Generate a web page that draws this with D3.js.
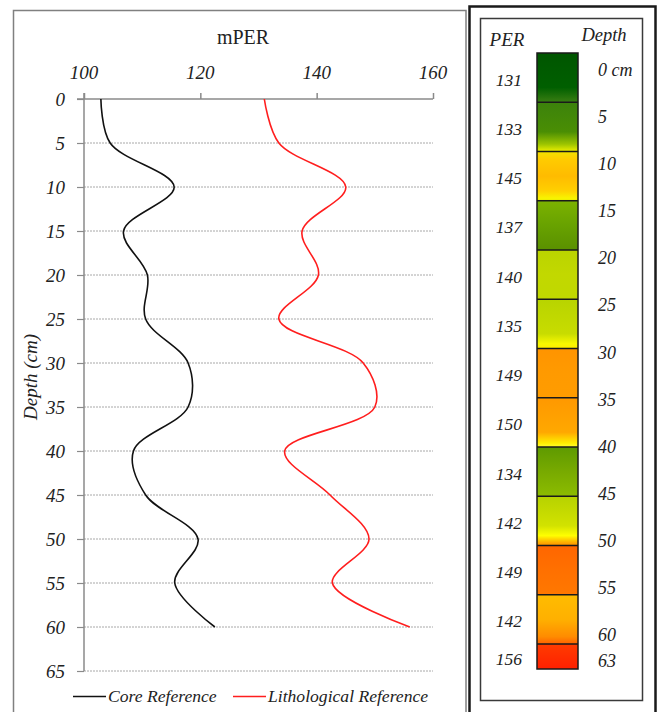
<!DOCTYPE html>
<html>
<head>
<meta charset="utf-8">
<script src="https://cdn.jsdelivr.net/npm/d3@7"></script>
<style>
  html, body { margin: 0; padding: 0; background: #fff; }
  svg { display: block; }
  text { font-family: "Liberation Serif", "Times New Roman", serif; fill: #222; }
</style>
</head>
<body>
<svg id="chart" width="659" height="712"></svg>
<script>
// Sampling depths (cm) of the profile
const depths = [0, 5, 10, 15, 20, 25, 30, 35, 40, 45, 50, 55, 60];
// mPER along the core reference
const coreReference = [102.9, 104.5, 115.5, 106.8, 110.9, 110.6, 117.9, 117.9, 108.5, 110.6, 119.6, 115.6, 122.5];
// mPER along the lithological reference
const lithologicalReference = [131, 133.5, 145, 137.5, 140.3, 133.5, 148, 150, 134.5, 142.3, 149, 142.7, 156];

const xTicks = [100, 120, 140, 160];
const yTicks = [0, 5, 10, 15, 20, 25, 30, 35, 40, 45, 50, 55, 60, 65];

// Layered column: band boundaries, PER per layer, depth labels
const bandEdges = [0, 5, 10, 15, 20, 25, 30, 35, 40, 45, 50, 55, 60, 63];
const bandPER = [131, 133, 145, 137, 140, 135, 149, 150, 134, 142, 149, 142, 156];
const depthLabels = ["0 cm", "5", "10", "15", "20", "25", "30", "35", "40", "45", "50", "55", "60", "63"];

// Colour ramps of each layer, top to bottom
const bandColors = [
  [[0, "#005600"], [0.7, "#005f00"], [1, "#3a7e12"]],
  [[0, "#3c820c"], [0.6, "#4a8e04"], [0.85, "#9cc400"], [1, "#eef000"]],
  [[0, "#f2e200"], [0.15, "#ffcc00"], [0.5, "#ffbb00"], [0.8, "#ffd000"], [0.95, "#f8f400"], [1, "#e8e800"]],
  [[0, "#7cb200"], [0.5, "#68a200"], [1, "#5a9000"]],
  [[0, "#bad400"], [0.5, "#c2d800"], [1, "#c0d800"]],
  [[0, "#b8d400"], [0.7, "#c8dc00"], [0.9, "#f8f800"], [1, "#ffee00"]],
  [[0, "#ff9400"], [0.5, "#ff9a00"], [1, "#ff9c00"]],
  [[0, "#ff9800"], [0.7, "#ffa800"], [0.92, "#ffee00"], [1, "#ffff30"]],
  [[0, "#5e9a00"], [0.5, "#78aa00"], [1, "#8cbc00"]],
  [[0, "#b6d200"], [0.6, "#d2e200"], [0.8, "#ffff00"], [0.93, "#ffb000"], [1, "#ff9000"]],
  [[0, "#ff6600"], [0.5, "#ff7000"], [1, "#ff7800"]],
  [[0, "#ffbc00"], [0.5, "#ffb000"], [0.85, "#ff8c00"], [1, "#ff6200"]],
  [[0, "#ff3c00"], [1, "#ff2000"]]
];

const svg = d3.select("#chart");
const axisGrey = "#8a8a8a";

// ---------- frames ----------
svg.append("rect").attr("x", 13.5).attr("y", 10.5).attr("width", 452.5).attr("height", 720)
  .attr("fill", "none").attr("stroke", "#808080").attr("stroke-width", 1.5);
svg.append("rect").attr("x", 469.5).attr("y", 6.5).attr("width", 186).attr("height", 720)
  .attr("fill", "none").attr("stroke", "#1a1a1a").attr("stroke-width", 2.5);
svg.append("rect").attr("x", 480.5).attr("y", 18.5).attr("width", 162).attr("height", 682)
  .attr("fill", "none").attr("stroke", "#3a3a3a").attr("stroke-width", 1.5);

// ---------- profile chart ----------
const x = d3.scaleLinear().domain([100, 160]).range([84, 433]);
const y = d3.scaleLinear().domain([0, 65]).range([99, 671]);

const grid = svg.append("g");
grid.selectAll("line").data(yTicks.filter(d => d > 0)).join("line")
  .attr("x1", x(100)).attr("x2", x(160))
  .attr("y1", d => y(d)).attr("y2", d => y(d))
  .attr("stroke", "#a8a8a8").attr("stroke-width", 1).attr("stroke-dasharray", "2,1");

// top axis
const xAxis = d3.axisTop(x).tickValues(xTicks).tickSize(6).tickFormat("");
const gx = svg.append("g").attr("transform", `translate(0,${y(0)})`).call(xAxis);
gx.select(".domain").attr("d", `M77,0H${x(160)}`).attr("stroke", axisGrey).attr("stroke-width", 1.5);
gx.selectAll(".tick line").attr("stroke", axisGrey).attr("stroke-width", 1.5);

svg.append("g").selectAll("text").data(xTicks).join("text")
  .attr("x", d => x(d)).attr("y", 79)
  .attr("text-anchor", "middle").attr("font-style", "italic").attr("font-size", 19)
  .text(d => d);

// left axis
const yAxis = d3.axisLeft(y).tickValues(yTicks).tickSize(7).tickFormat("");
const gy = svg.append("g").attr("transform", `translate(${x(100)},0)`).call(yAxis);
gy.select(".domain").attr("d", `M0,${y(0) - 6}V${y(65)}`).attr("stroke", axisGrey).attr("stroke-width", 1.5);
gy.selectAll(".tick line").attr("stroke", axisGrey).attr("stroke-width", 1.2);

svg.append("g").selectAll("text").data(yTicks).join("text")
  .attr("x", 65).attr("y", d => y(d) + 6.5)
  .attr("text-anchor", "end").attr("font-style", "italic").attr("font-size", 19)
  .text(d => d);

svg.append("text").attr("x", 243).attr("y", 44).attr("text-anchor", "middle")
  .attr("font-size", 20).text("mPER");

svg.append("text").attr("transform", "translate(37,377) rotate(-90)")
  .attr("text-anchor", "middle").attr("font-style", "italic").attr("font-size", 19)
  .text("Depth (cm)");

const line = d3.line()
  .x(d => x(d[1])).y(d => y(d[0]))
  .curve(d3.curveCatmullRom.alpha(0.5));

svg.append("path").datum(depths.map((d, i) => [d, coreReference[i]]))
  .attr("d", line).attr("fill", "none").attr("stroke", "#111").attr("stroke-width", 1.6);
svg.append("path").datum(depths.map((d, i) => [d, lithologicalReference[i]]))
  .attr("d", line).attr("fill", "none").attr("stroke", "#ff1e1e").attr("stroke-width", 1.6);

// legend
const legend = [
  { label: "Core Reference", color: "#111", x0: 73 },
  { label: "Lithological Reference", color: "#ff1e1e", x0: 233 }
];
const lg = svg.append("g").selectAll("g").data(legend).join("g");
lg.append("line").attr("x1", d => d.x0).attr("x2", d => d.x0 + 33)
  .attr("y1", 696.5).attr("y2", 696.5).attr("stroke", d => d.color).attr("stroke-width", 1.6);
lg.append("text").attr("x", d => d.x0 + 35).attr("y", 702)
  .attr("font-style", "italic").attr("font-size", 17.6).text(d => d.label);

// ---------- layered PER column ----------
const yb = d3.scaleLinear().domain([0, 60, 63]).range([53, 644, 669]);
const yLab = d3.scaleLinear().domain([0, 60, 63]).range([70, 635, 661]);
const barX = 537, barW = 41;

const defs = svg.append("defs");
bandColors.forEach((stops, i) => {
  const g = defs.append("linearGradient").attr("id", "band" + i)
    .attr("x1", 0).attr("y1", 0).attr("x2", 0).attr("y2", 1);
  stops.forEach(s => g.append("stop").attr("offset", s[0]).attr("stop-color", s[1]));
});

const bands = bandPER.map((p, i) => ({ i, per: p, top: bandEdges[i], bottom: bandEdges[i + 1] }));

svg.append("g").selectAll("rect").data(bands).join("rect")
  .attr("x", barX).attr("width", barW)
  .attr("y", d => yb(d.top)).attr("height", d => yb(d.bottom) - yb(d.top))
  .attr("fill", d => `url(#band${d.i})`);

svg.append("g").selectAll("line").data(bandEdges.slice(1, -1)).join("line")
  .attr("x1", barX).attr("x2", barX + barW)
  .attr("y1", d => yb(d)).attr("y2", d => yb(d))
  .attr("stroke", "#1a1a1a").attr("stroke-width", 1.5);

svg.append("rect").attr("x", barX).attr("y", yb(0)).attr("width", barW).attr("height", yb(63) - yb(0))
  .attr("fill", "none").attr("stroke", "#1a1a1a").attr("stroke-width", 1.5);

svg.append("g").selectAll("text").data(bands).join("text")
  .attr("x", 522).attr("y", d => (yb(d.top) + yb(d.bottom)) / 2 + 8)
  .attr("text-anchor", "end").attr("font-style", "italic").attr("font-size", 17.5)
  .text(d => d.per);

svg.append("g").selectAll("text").data(bandEdges).join("text")
  .attr("x", 598).attr("y", d => yLab(d) + 6)
  .attr("font-style", "italic").attr("font-size", 18)
  .text((d, i) => depthLabels[i]);

svg.append("text").attr("x", 507).attr("y", 46).attr("text-anchor", "middle")
  .attr("font-style", "italic").attr("font-size", 19).text("PER");
svg.append("text").attr("x", 604).attr("y", 41).attr("text-anchor", "middle")
  .attr("font-style", "italic").attr("font-size", 18.5).text("Depth");
</script>
</body>
</html>
